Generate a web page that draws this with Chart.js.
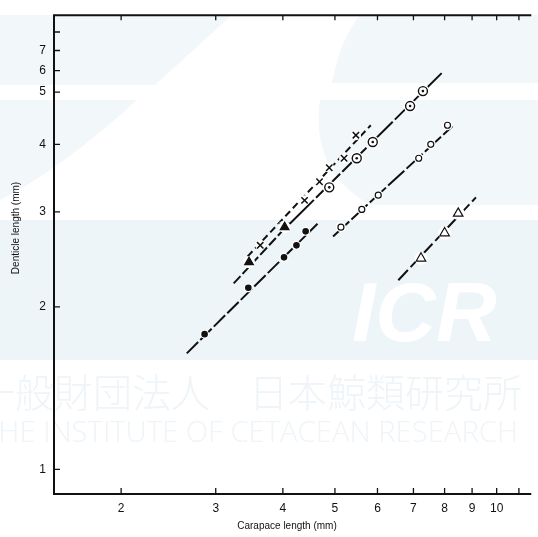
<!DOCTYPE html>
<html>
<head>
<meta charset="utf-8">
<script src="https://cdn.jsdelivr.net/npm/chart.js@4.4.0/dist/chart.umd.min.js"></script>
<style>
html, body { margin: 0; padding: 0; background: #fff; overflow: hidden; }
</style>
</head>
<body>
<canvas id="chartOne" width="538" height="537"></canvas>
<script>
// carapace length (mm) vs denticle length (mm)
const dotsX = [2.86, 3.45, 4.02, 4.24, 4.41];
const dotsY = [1.78, 2.17, 2.47, 2.60, 2.76];
const dotsFitX = [2.65, 4.64];
const dotsFitY = [1.64, 2.85];

const solidTriX = [3.46, 4.03];
const solidTriY = [2.42, 2.81];
const solidTriFitX = [3.24, 4.12];
const solidTriFitY = [2.21, 2.86];

const crossX = [3.63, 4.00, 4.39, 4.68, 4.88, 5.20, 5.47];
const crossY = [2.60, 2.82, 3.15, 3.41, 3.62, 3.77, 4.16];
const crossFitX = [3.44, 5.83];
const crossFitY = [2.48, 4.34];

const dotCircleX = [4.88, 5.49, 5.88, 6.90, 7.29];
const dotCircleY = [3.33, 3.77, 4.04, 4.71, 5.02];
const dotCircleFitX = [4.12, 7.90];
const dotCircleFitY = [2.85, 5.42];

const openCircleX = [5.13, 5.61, 6.02, 7.16, 7.54, 8.10];
const openCircleY = [2.81, 3.03, 3.22, 3.77, 4.00, 4.34];
const openCircleFitX = [4.96, 8.27];
const openCircleFitY = [2.70, 4.32];

const openTriX = [7.23, 8.00, 8.48];
const openTriY = [2.46, 2.74, 2.98];
const openTriFitX = [6.56, 9.15];
const openTriFitY = [2.24, 3.19];

const xTicks = [2, 3, 4, 5, 6, 7, 8, 9, 10, 11];
const xTickLabels = ['2', '3', '4', '5', '6', '7', '8', '9', '10', ''];
// the printed axis puts 6 and 7 closer together than a true log scale
const yTickValues = [1, 2, 3, 4, 5, 5.48, 5.97, 6.46];
const yTickLabels = ['1', '2', '3', '4', '5', '6', '7', ''];

const FONT = '"Liberation Sans", Arial, sans-serif';

function pts(xs, ys) {
    return xs.map((v, i) => ({ x: v, y: ys[i] }));
}

function marks(xs, ys, extra) {
    return Object.assign({
        data: pts(xs, ys),
        showLine: false,
        pointBackgroundColor: '#111',
        pointBorderColor: '#111',
        pointBorderWidth: 1.2,
    }, extra);
}

function fit(xs, ys, dash) {
    return {
        data: pts(xs, ys),
        showLine: true,
        borderColor: '#111',
        borderWidth: 2,
        borderDash: dash,
        pointRadius: 0,
    };
}

// faint site watermark behind the plot
const watermark = {
    id: 'watermark',
    beforeDraw(chart) {
        const ctx = chart.ctx;
        ctx.save();
        ctx.fillStyle = '#f2f7fa';
        ctx.beginPath();
        ctx.moveTo(0, 15); ctx.lineTo(232, 15); ctx.lineTo(155, 85); ctx.lineTo(0, 85);
        ctx.fill();
        ctx.beginPath();
        ctx.moveTo(0, 100); ctx.lineTo(137, 100);
        ctx.quadraticCurveTo(60, 170, 0, 200);
        ctx.fill();
        ctx.beginPath();
        ctx.moveTo(360, 15); ctx.lineTo(538, 15); ctx.lineTo(538, 83); ctx.lineTo(332, 83);
        ctx.quadraticCurveTo(340, 40, 360, 15);
        ctx.fill();
        ctx.beginPath();
        ctx.moveTo(320, 100); ctx.lineTo(538, 100); ctx.lineTo(538, 205); ctx.lineTo(370, 205);
        ctx.quadraticCurveTo(310, 170, 320, 100);
        ctx.fill();
        ctx.fillStyle = '#eef5f9';
        ctx.fillRect(0, 220, 538, 140);

        ctx.fillStyle = '#ffffff';
        ctx.font = 'bold italic 84px ' + FONT;
        ctx.textBaseline = 'alphabetic';
        ctx.fillText('ICR', 352, 341, 170);

        ctx.fillStyle = '#eef4f8';
        ctx.font = '300 39px "Noto Sans CJK JP"';
        ctx.fillText('一般財団法人　日本鯨類研究所', -24, 407);
        ctx.font = '300 29px "Open Sans", ' + FONT;
        const t = 'THE INSTITUTE OF CETACEAN RESEARCH';
        const w = ctx.measureText(t).width;
        ctx.translate(-17, 442);
        ctx.scale(535 / w, 1);
        ctx.fillText(t, 0, 0);
        ctx.restore();
    }
};

// white gaps round the markers, and the centre dot of the ringed points
const markerGap = {
    id: 'markerGap',
    beforeDatasetDraw(chart, args) {
        const ds = chart.data.datasets[args.index];
        if (!ds.halo) return;
        const ctx = chart.ctx;
        ctx.save();
        ctx.fillStyle = '#fff';
        args.meta.data.forEach(p => {
            ctx.beginPath();
            ctx.arc(p.x, p.y, ds.halo, 0, Math.PI * 2);
            ctx.fill();
        });
        ctx.restore();
    },
    afterDatasetDraw(chart, args) {
        const ds = chart.data.datasets[args.index];
        if (!ds.centreDot) return;
        const ctx = chart.ctx;
        ctx.save();
        ctx.fillStyle = '#111';
        args.meta.data.forEach(p => {
            ctx.beginPath();
            ctx.arc(p.x, p.y, 1.3, 0, Math.PI * 2);
            ctx.fill();
        });
        ctx.restore();
    }
};

// frame, inward ticks and axis titles
const frame = {
    id: 'frame',
    afterDraw(chart) {
        const { ctx, chartArea: a, scales: { x, y } } = chart;
        ctx.save();
        ctx.strokeStyle = '#111';
        ctx.lineWidth = 2;
        ctx.beginPath();
        ctx.moveTo(a.right, a.top);
        ctx.lineTo(a.left, a.top);
        ctx.lineTo(a.left, a.bottom);
        ctx.lineTo(a.right, a.bottom);
        ctx.stroke();

        ctx.lineWidth = 1.3;
        ctx.beginPath();
        xTicks.forEach(v => {
            const px = x.getPixelForValue(v);
            ctx.moveTo(px, a.bottom); ctx.lineTo(px, a.bottom - 6);
            ctx.moveTo(px, a.top); ctx.lineTo(px, a.top + 5);
        });
        yTickValues.forEach(v => {
            const py = y.getPixelForValue(v);
            ctx.moveTo(a.left, py); ctx.lineTo(a.left + 6, py);
        });
        ctx.stroke();

        ctx.fillStyle = '#111';
        ctx.font = '10px ' + FONT;
        ctx.textAlign = 'center';
        ctx.textBaseline = 'middle';
        ctx.fillText('Carapace length (mm)', 287, 526);
        ctx.translate(16, 228);
        ctx.rotate(-Math.PI / 2);
        ctx.fillText('Denticle length (mm)', 0, 0);
        ctx.restore();
    }
};

const canvas = document.getElementById('chartOne');
const ctx = canvas.getContext('2d');

let chart_one = new Chart(ctx, {
    type: 'scatter',
    data: {
        datasets: [
            marks(dotsX, dotsY, { pointStyle: 'circle', pointRadius: 2.7, halo: 4.5 }),
            marks(solidTriX, solidTriY, { pointStyle: 'triangle', pointRadius: 5, halo: 6 }),
            marks(crossX, crossY, { pointStyle: 'crossRot', pointRadius: 4.5, pointBorderWidth: 1.5, halo: 5 }),
            marks(dotCircleX, dotCircleY, { pointStyle: 'circle', pointRadius: 4.5, pointBackgroundColor: '#fff', pointBorderWidth: 1.4, halo: 6.5, centreDot: true }),
            marks(openCircleX, openCircleY, { pointStyle: 'circle', pointRadius: 3, pointBackgroundColor: '#fff', halo: 5 }),
            marks(openTriX, openTriY, { pointStyle: 'triangle', pointRadius: 5.5, pointBackgroundColor: '#fff', halo: 6.5 }),
            fit(dotsFitX, dotsFitY, [16, 3]),
            fit(solidTriFitX, solidTriFitY, [10, 3]),
            fit(crossFitX, crossFitY, [7, 4]),
            fit(dotCircleFitX, dotCircleFitY, [34, 3]),
            fit(openCircleFitX, openCircleFitY, [22, 3]),
            fit(openTriFitX, openTriFitY, [14, 4]),
        ]
    },
    options: {
        responsive: false,
        animation: false,
        layout: { padding: { top: 8, right: 0, left: 0, bottom: 0 } },
        plugins: {
            legend: { display: false },
            tooltip: { enabled: false },
        },
        scales: {
            x: {
                type: 'logarithmic',
                min: 1.5,
                max: 11.6,
                afterBuildTicks: s => { s.ticks = xTicks.map(v => ({ value: v })); },
                afterFit: s => { s.height = 43; },
                grid: { display: false, drawTicks: false },
                border: { display: false },
                ticks: {
                    autoSkip: false,
                    maxRotation: 0,
                    padding: 7,
                    color: '#111',
                    font: { family: FONT, size: 12 },
                    callback: (v, i) => xTickLabels[i],
                },
            },
            y: {
                type: 'logarithmic',
                min: 0.9,
                max: 6.94,
                afterBuildTicks: s => { s.ticks = yTickValues.map(v => ({ value: v })); },
                afterFit: s => { s.width = 54; },
                grid: { display: false, drawTicks: false },
                border: { display: false },
                ticks: {
                    autoSkip: false,
                    padding: 8,
                    color: '#111',
                    font: { family: FONT, size: 12 },
                    callback: (v, i) => yTickLabels[i],
                },
            },
        },
    },
    plugins: [watermark, markerGap, frame],
});
</script>
</body>
</html>
